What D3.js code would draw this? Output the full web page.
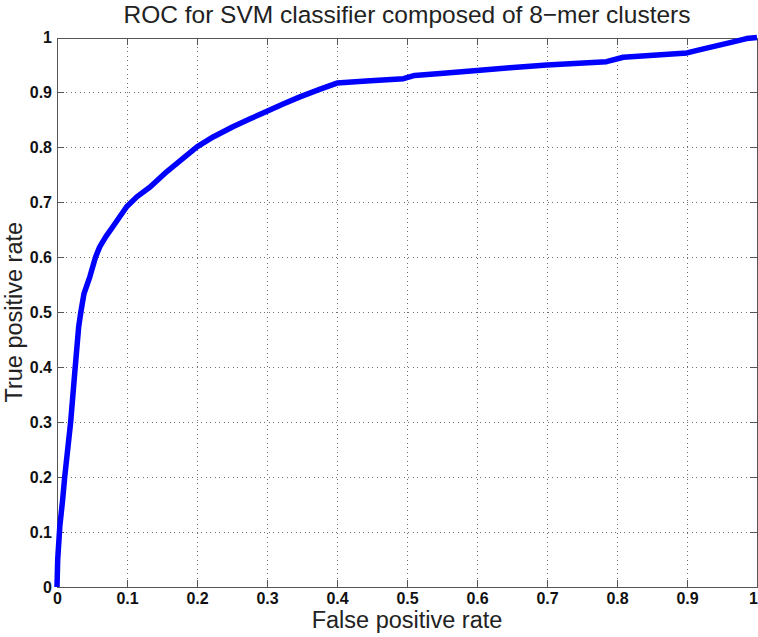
<!DOCTYPE html>
<html>
<head>
<meta charset="utf-8">
<script src="https://cdn.jsdelivr.net/npm/d3@7"></script>
<style>
  html, body { margin: 0; padding: 0; background: #fff; }
  svg { display: block; }
</style>
</head>
<body>
<div id="chart"></div>
<script>
// ---- Data ----
const fpr = [0, 0.001, 0.003, 0.004, 0.008, 0.011, 0.0195, 0.026, 0.031, 0.034, 0.0386, 0.043, 0.047, 0.055,
             0.061, 0.07, 0.08, 0.0995, 0.114, 0.133, 0.157, 0.180, 0.200, 0.223, 0.252, 0.276, 0.300,
             0.323, 0.347, 0.376, 0.400, 0.442, 0.495, 0.511, 0.552, 0.600, 0.647, 0.700, 0.785, 0.809,
             0.900, 0.919, 0.966, 0.985, 1.0];
const tpr = [0, 0.05, 0.09, 0.11, 0.158, 0.2, 0.3, 0.4, 0.474, 0.5, 0.534, 0.55, 0.565, 0.6,
             0.619, 0.638, 0.656, 0.692, 0.710, 0.728, 0.756, 0.780, 0.801, 0.819, 0.838, 0.852, 0.866,
             0.879, 0.892, 0.906, 0.917, 0.921, 0.925, 0.931, 0.935, 0.940, 0.945, 0.950, 0.956, 0.964,
             0.972, 0.978, 0.992, 0.998, 1.0];
const tickValues = [0, 0.1, 0.2, 0.3, 0.4, 0.5, 0.6, 0.7, 0.8, 0.9, 1];
const tickLabels = ["0", "0.1", "0.2", "0.3", "0.4", "0.5", "0.6", "0.7", "0.8", "0.9", "1"];
const titleText = "ROC for SVM classifier composed of 8\u2212mer clusters";
const xLabel = "False positive rate";
const yLabel = "True positive rate";

// ---- Layout ----
const W = 758, H = 637;
const pL = 57, pR = 757, pT = 37.5, pB = 587;

const svg = d3.select("#chart").append("svg")
  .attr("width", W).attr("height", H)
  .style("font-family", "'Liberation Sans', Arial, Helvetica, sans-serif");

const x = d3.scaleLinear().domain([0, 1]).range([pL, pR]);
const y = d3.scaleLinear().domain([0, 1]).range([pB, pT]);
const fmt = (d) => tickLabels[tickValues.indexOf(d)];

// Grid (dotted)
const grid = svg.append("g").attr("class", "grid");
grid.selectAll("line.vx").data(tickValues.slice(1, -1)).join("line")
  .attr("x1", d => x(d)).attr("x2", d => x(d))
  .attr("y1", pT).attr("y2", pB)
  .attr("stroke", "#707070").attr("stroke-width", 1)
  .attr("stroke-dasharray", "1,3.5").attr("shape-rendering", "crispEdges");
grid.selectAll("line.hy").data(tickValues.slice(1, -1)).join("line")
  .attr("y1", d => y(d)).attr("y2", d => y(d))
  .attr("x1", pL).attr("x2", pR)
  .attr("stroke", "#707070").attr("stroke-width", 1)
  .attr("stroke-dasharray", "1,3.5").attr("shape-rendering", "crispEdges");

// Axes
function styleAxis(g, showText) {
  g.select(".domain").attr("stroke", "#555").attr("fill", "none").attr("shape-rendering", "crispEdges");
  g.selectAll(".tick line").attr("stroke", "#555").attr("shape-rendering", "crispEdges");
  g.selectAll(".tick text")
    .attr("fill", "#111")
    .style("font-size", "16px")
    .style("font-weight", "bold")
    .style("display", showText ? null : "none");
}

svg.append("g").attr("transform", `translate(0,${pB})`)
  .call(d3.axisBottom(x).tickValues(tickValues).tickFormat(fmt).tickSizeInner(-7).tickSizeOuter(0).tickPadding(6))
  .call(g => styleAxis(g, true))
  .call(g => g.selectAll(".tick text").filter(d => d === 1).attr("dx", -4));
svg.append("g").attr("transform", `translate(${pL},0)`)
  .call(d3.axisLeft(y).tickValues(tickValues).tickFormat(fmt).tickSizeInner(-7).tickSizeOuter(0).tickPadding(5))
  .call(g => styleAxis(g, true));
svg.append("g").attr("transform", `translate(0,${pT})`)
  .call(d3.axisTop(x).tickValues(tickValues).tickFormat(fmt).tickSizeInner(-7).tickSizeOuter(0))
  .call(g => styleAxis(g, false));
svg.append("g").attr("transform", `translate(${pR},0)`)
  .call(d3.axisRight(y).tickValues(tickValues).tickFormat(fmt).tickSizeInner(-7).tickSizeOuter(0))
  .call(g => styleAxis(g, false));

// Curve
const pts = fpr.map((d, i) => [d, tpr[i]]);
svg.append("path")
  .datum(pts)
  .attr("fill", "none")
  .attr("stroke", "#0000ff")
  .attr("stroke-width", 5.5)
  .attr("stroke-linejoin", "round")
  .attr("stroke-linecap", "butt")
  .attr("d", d3.line().x(d => x(d[0])).y(d => y(d[1])));

// Title and labels
svg.append("text")
  .attr("x", (pL + pR) / 2).attr("y", 23)
  .attr("text-anchor", "middle")
  .attr("fill", "#222")
  .style("font-size", "24.5px")
  .text(titleText);

svg.append("text")
  .attr("x", (pL + pR) / 2).attr("y", 628)
  .attr("text-anchor", "middle")
  .attr("fill", "#222")
  .style("font-size", "23.5px")
  .text(xLabel);

svg.append("text")
  .attr("transform", `translate(22,${(pT + pB) / 2}) rotate(-90)`)
  .attr("text-anchor", "middle")
  .attr("fill", "#222")
  .style("font-size", "23.5px")
  .text(yLabel);
</script>
</body>
</html>
